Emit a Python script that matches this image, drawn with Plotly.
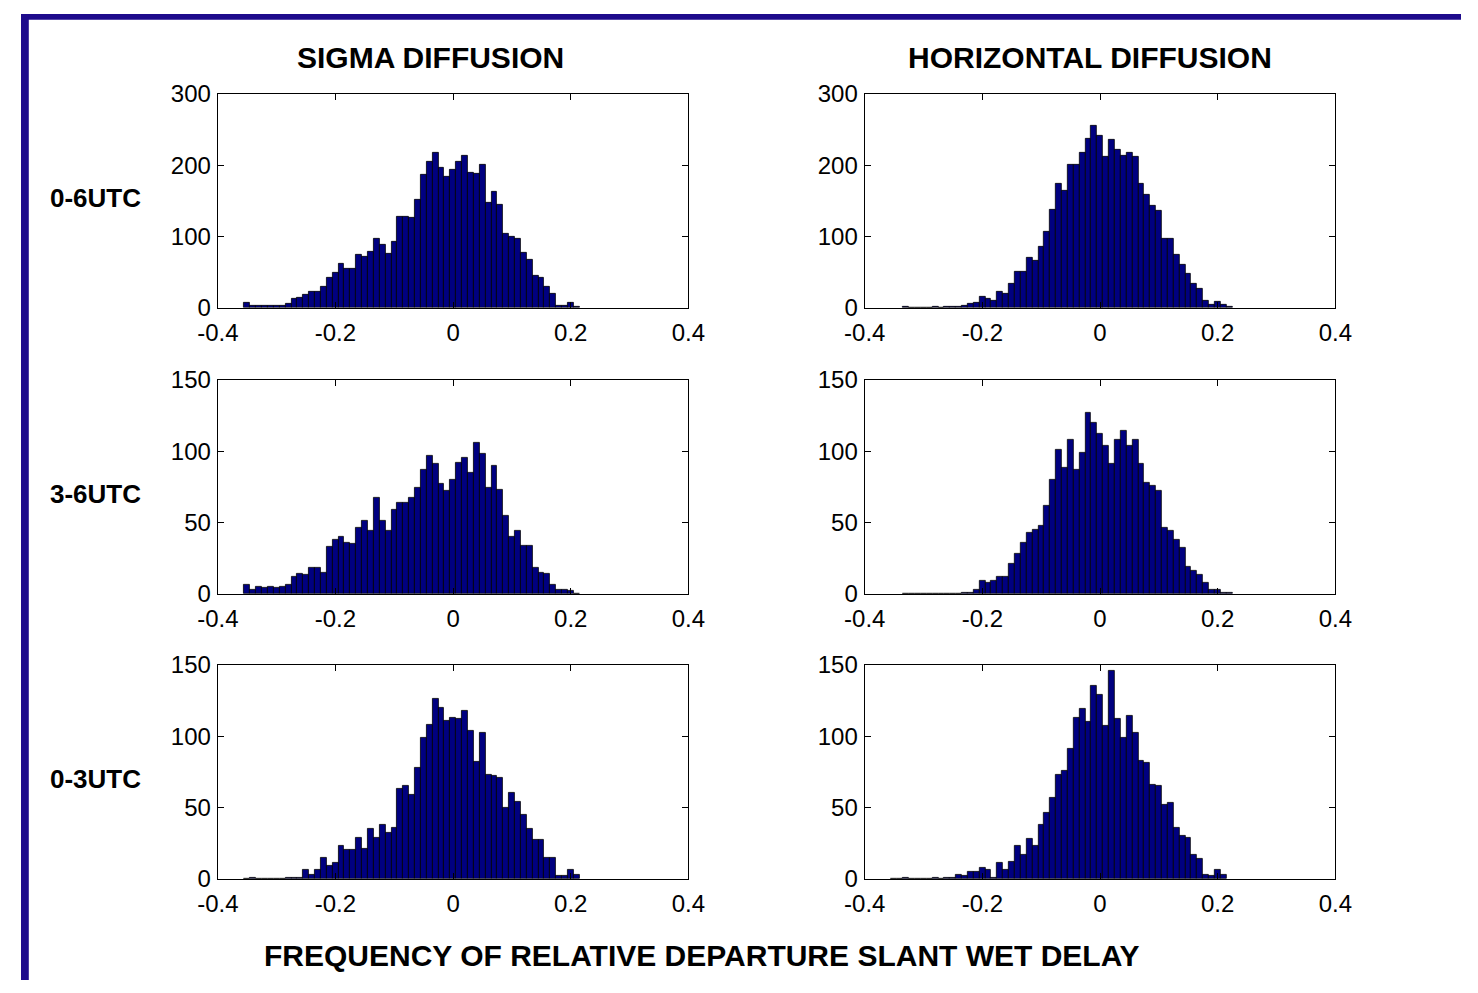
import plotly.graph_objects as go

# Bin centres (bin width 0.01)
BINS_A = [-0.35, -0.34, -0.33, -0.32, -0.31, -0.30, -0.29, -0.28, -0.27, -0.26,
          -0.25, -0.24, -0.23, -0.22, -0.21, -0.20, -0.19, -0.18, -0.17, -0.16,
          -0.15, -0.14, -0.13, -0.12, -0.11, -0.10, -0.09, -0.08, -0.07, -0.06,
          -0.05, -0.04, -0.03, -0.02, -0.01, 0.00, 0.01, 0.02, 0.03, 0.04,
          0.05, 0.06, 0.07, 0.08, 0.09, 0.10, 0.11, 0.12, 0.13, 0.14,
          0.15, 0.16, 0.17, 0.18, 0.19, 0.20, 0.21]
BINS_B = [-0.33, -0.32, -0.31, -0.30, -0.29, -0.28, -0.27, -0.26, -0.25, -0.24,
          -0.23, -0.22, -0.21, -0.20, -0.19, -0.18, -0.17, -0.16, -0.15, -0.14,
          -0.13, -0.12, -0.11, -0.10, -0.09, -0.08, -0.07, -0.06, -0.05, -0.04,
          -0.03, -0.02, -0.01, 0.00, 0.01, 0.02, 0.03, 0.04, 0.05, 0.06,
          0.07, 0.08, 0.09, 0.10, 0.11, 0.12, 0.13, 0.14, 0.15, 0.16,
          0.17, 0.18, 0.19, 0.20, 0.21, 0.22]

SIGMA_0_6 = [7, 3, 3, 3, 3, 3, 3, 6, 12, 14,
             18, 22, 23, 30, 42, 49, 62, 55, 55, 74,
             72, 79, 97, 88, 76, 93, 127, 128, 126, 152,
             187, 205, 217, 196, 183, 193, 204, 213, 189, 188,
             201, 147, 162, 144, 104, 100, 97, 77, 68, 45,
             42, 30, 20, 3, 3, 7, 2]
HORIZ_0_6 = [1, 0, 0, 0, 0, 1, 0, 1, 1, 2,
             3, 6, 7, 16, 13, 10, 23, 19, 34, 50,
             51, 70, 66, 85, 107, 137, 174, 164, 200, 200,
             217, 237, 255, 241, 211, 236, 221, 213, 217, 211,
             174, 159, 143, 136, 97, 97, 74, 61, 47, 33,
             26, 10, 4, 8, 4, 1]
SIGMA_3_6 = [6, 3, 5, 4, 5, 4, 5, 6, 12, 14,
             13, 18, 18, 15, 33, 38, 40, 36, 35, 46,
             51, 44, 67, 51, 44, 59, 64, 64, 67, 74,
             87, 97, 91, 77, 72, 80, 92, 95, 85, 106,
             98, 74, 90, 73, 55, 40, 44, 34, 34, 18,
             15, 14, 6, 3, 3, 2, 0]
HORIZ_3_6 = [0, 0, 0, 0, 0, 0, 0, 0, 0, 0,
             1, 1, 3, 9, 8, 9, 12, 12, 21, 28,
             36, 43, 45, 48, 62, 80, 101, 88, 108, 87,
             99, 127, 120, 112, 104, 91, 108, 114, 104, 108,
             91, 78, 76, 72, 46, 44, 38, 32, 19, 16,
             13, 8, 3, 3, 1, 1]
SIGMA_0_3 = [0, 1, 0, 0, 0, 0, 0, 1, 1, 1,
             6, 3, 6, 15, 9, 11, 23, 20, 20, 29,
             21, 35, 29, 38, 32, 36, 63, 65, 59, 78,
             99, 108, 126, 120, 111, 113, 112, 118, 104, 82,
             102, 73, 72, 71, 50, 60, 54, 45, 35, 27,
             27, 15, 15, 2, 2, 6, 3]
HORIZ_0_3 = [0, 0, 1, 0, 0, 0, 0, 1, 0, 1,
             1, 3, 2, 5, 5, 8, 6, 1, 11, 6,
             12, 23, 17, 28, 23, 38, 46, 57, 73, 76,
             91, 113, 119, 110, 135, 129, 107, 146, 112, 99,
             114, 102, 83, 81, 66, 65, 52, 53, 36, 30,
             29, 17, 14, 3, 2, 6, 3]

X_TICKS = [-0.4, -0.2, 0, 0.2, 0.4]
X_TICK_TEXT = ["-0.4", "-0.2", "0", "0.2", "0.4"]
Y_TICKS_TOP = [0, 100, 200, 300]
Y_TICKS_LOW = [0, 50, 100, 150]

COL_TITLES = ["SIGMA DIFFUSION", "HORIZONTAL DIFFUSION"]
ROW_LABELS = ["0-6UTC", "3-6UTC", "0-3UTC"]
X_TITLE = "FREQUENCY OF RELATIVE DEPARTURE SLANT WET DELAY"

W, H = 1478, 993
FONT = "Liberation Sans, Arial, sans-serif"

panels = [
    (BINS_A, SIGMA_0_6, 0, 0, 300, Y_TICKS_TOP),
    (BINS_B, HORIZ_0_6, 0, 1, 300, Y_TICKS_TOP),
    (BINS_A, SIGMA_3_6, 1, 0, 150, Y_TICKS_LOW),
    (BINS_B, HORIZ_3_6, 1, 1, 150, Y_TICKS_LOW),
    (BINS_A, SIGMA_0_3, 2, 0, 150, Y_TICKS_LOW),
    (BINS_A, HORIZ_0_3, 2, 1, 150, Y_TICKS_LOW),
]

col_px = [(202, 685), (866, 1349)]
row_px = [(82, 302), (376, 596), (669, 889)]

fig = go.Figure()
layout = {}
for k, (bins, counts, r, c, ymax, yt) in enumerate(panels):
    n = k + 1
    xa = "x" if n == 1 else f"x{n}"
    ya = "y" if n == 1 else f"y{n}"
    fig.add_trace(go.Bar(
        x=bins, y=counts, width=0.01,
        marker=dict(color="#000080", line=dict(color="#000000", width=0.8)),
        xaxis=xa, yaxis=ya, showlegend=False,
    ))
    x0, x1 = col_px[c]
    y0, y1 = row_px[r]
    axis_common = dict(
        showline=True, linecolor="black", linewidth=1.3, mirror="ticks",
        ticks="inside", ticklen=6, tickwidth=1, tickcolor="black",
        showgrid=False, zeroline=False,
        tickfont=dict(family=FONT, size=24, color="black"),
        fixedrange=True,
    )
    layout["xaxis" if n == 1 else f"xaxis{n}"] = dict(
        domain=[x0 / W, x1 / W], range=[-0.4, 0.4], anchor=ya,
        tickvals=X_TICKS, ticktext=X_TICK_TEXT, ticklabelstandoff=3,
        **axis_common)
    layout["yaxis" if n == 1 else f"yaxis{n}"] = dict(
        domain=[1 - y1 / H, 1 - y0 / H], range=[0, ymax], anchor=xa,
        tickvals=yt, ticktext=[str(v) for v in yt], ticklabelstandoff=1,
        **axis_common)

annotations = []
for text, cx in zip(COL_TITLES, [420, 1097]):
    annotations.append(dict(text=f"<b>{text}</b>", x=cx / W, y=1 - 45 / H,
                            xref="paper", yref="paper", showarrow=False,
                            xanchor="center", yanchor="middle",
                            font=dict(family=FONT, size=30, color="black")))
for text, cy in zip(ROW_LABELS, [189, 493, 786]):
    annotations.append(dict(text=f"<b>{text}</b>", x=76 / W, y=1 - cy / H,
                            xref="paper", yref="paper", showarrow=False,
                            xanchor="center", yanchor="middle",
                            font=dict(family=FONT, size=26, color="black")))
annotations.append(dict(text=f"<b>{X_TITLE}</b>", x=699 / W, y=1 - 968 / H,
                        xref="paper", yref="paper", showarrow=False,
                        xanchor="center", yanchor="middle",
                        font=dict(family=FONT, size=30, color="black")))

shapes = [
    dict(type="rect", xref="paper", yref="paper", x0=0, x1=1, y0=1 - 6 / H, y1=1,
         fillcolor="#1e0b8c", line=dict(width=0), layer="above"),
    dict(type="rect", xref="paper", yref="paper", x0=0, x1=8 / W, y0=0, y1=1,
         fillcolor="#1e0b8c", line=dict(width=0), layer="above"),
]

fig.update_layout(
    width=W, height=H, margin=dict(l=0, r=0, t=0, b=0),
    paper_bgcolor="white", plot_bgcolor="white",
    bargap=0, annotations=annotations, shapes=shapes,
    **layout,
)

fig.write_html(
    "out.html",
    config={"displayModeBar": False},
    post_script="document.body.style.margin='0';document.body.style.padding='0';"
                "document.body.style.overflow='hidden';"
                "document.documentElement.style.overflow='hidden';",
)
